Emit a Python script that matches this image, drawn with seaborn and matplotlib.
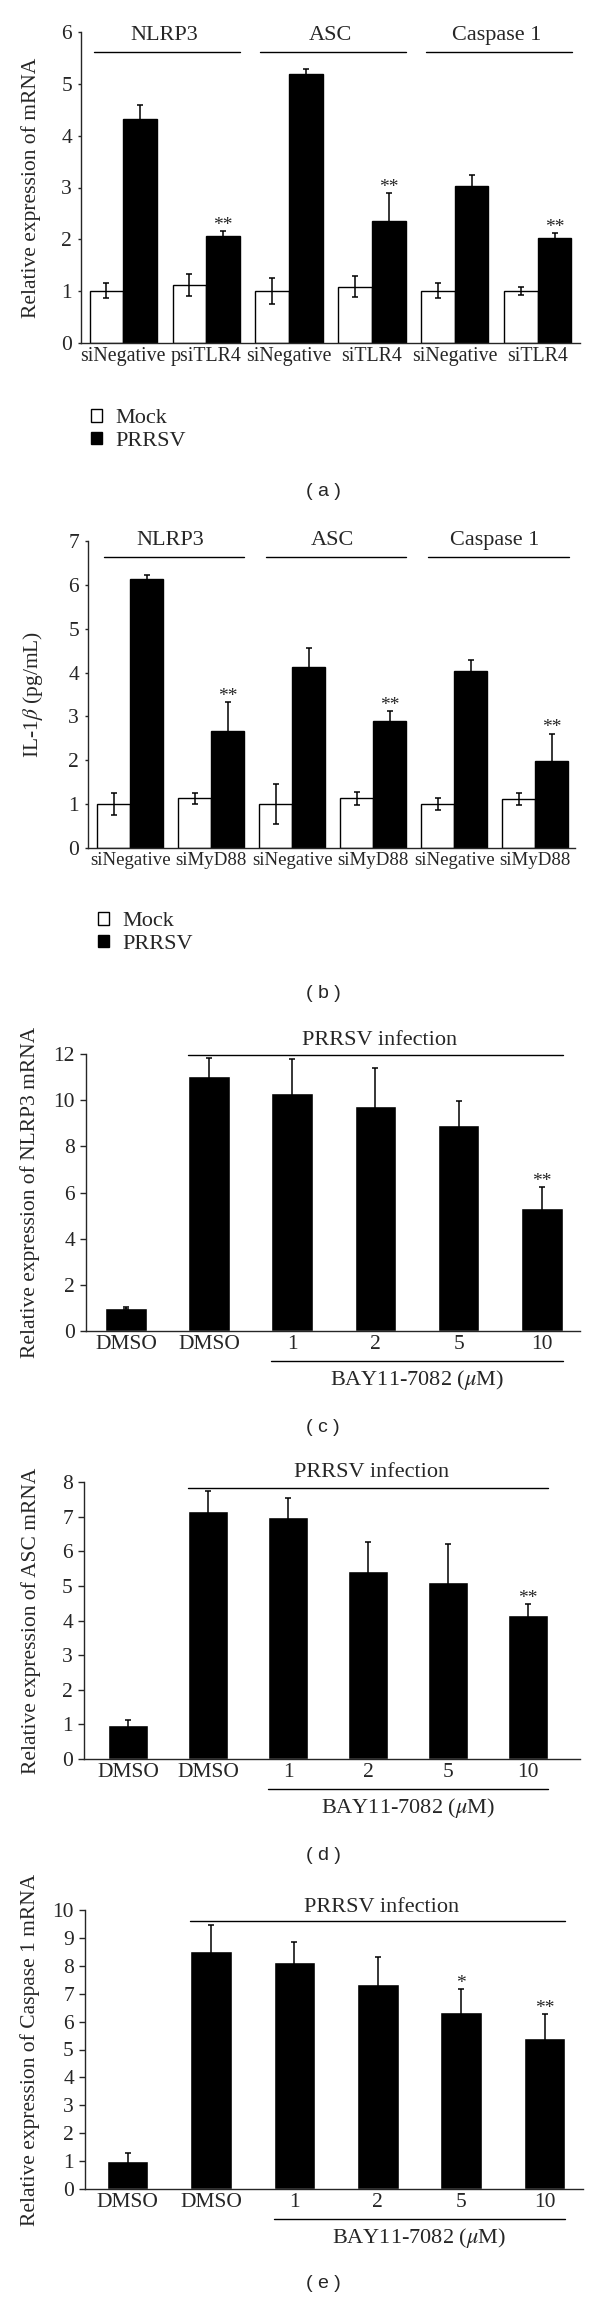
import matplotlib
matplotlib.use("Agg")
import pandas as pd
import matplotlib.pyplot as plt
import seaborn as sns
from matplotlib.patches import Patch

# Panels (a) and (b): Mock vs PRRSV after siRNA knockdown
groups = ["NLRP3", "ASC", "Caspase 1"]
ticks_a = ["siNegative", "psiTLR4", "siNegative", "siTLR4", "siNegative", "siTLR4"]
mock_a = [1.01, 1.12, 1.01, 1.09, 1.01, 1.01]
mock_a_err = [0.14, 0.21, 0.25, 0.20, 0.15, 0.08]
prrsv_a = [4.32, 2.06, 5.19, 2.35, 3.03, 2.02]
prrsv_a_err = [0.27, 0.10, 0.10, 0.54, 0.21, 0.11]
stars_a = ["", "**", "", "**", "", "**"]

ticks_b = ["siNegative", "siMyD88", "siNegative", "siMyD88", "siNegative", "siMyD88"]
mock_b = [1.01, 1.13, 1.01, 1.13, 1.01, 1.12]
mock_b_err = [0.25, 0.13, 0.46, 0.15, 0.14, 0.14]
prrsv_b = [6.13, 2.67, 4.13, 2.90, 4.03, 1.99]
prrsv_b_err = [0.10, 0.65, 0.42, 0.23, 0.25, 0.62]
stars_b = ["", "**", "", "**", "", "**"]

# Panels (c)-(e): BAY11-7082 dose series
ticks_dose = ["DMSO", "DMSO", "1", "2", "5", "10"]
nlrp3_c = [1.00, 11.03, 10.30, 9.75, 8.94, 5.34]
nlrp3_c_err = [0.04, 0.78, 1.47, 1.66, 1.01, 0.91]
stars_c = ["", "", "", "", "", "**"]

asc_d = [0.98, 7.17, 6.98, 5.42, 5.10, 4.17]
asc_d_err = [0.15, 0.56, 0.56, 0.85, 1.11, 0.30]
stars_d = ["", "", "", "", "", "**"]

casp_e = [1.02, 8.52, 8.15, 7.34, 6.33, 5.41]
casp_e_err = [0.28, 0.94, 0.70, 0.99, 0.84, 0.86]
stars_e = ["", "", "", "", "*", "**"]

sns.set_style("ticks")
plt.rcParams["font.family"] = ["Liberation Serif", "DejaVu Serif"]
plt.rcParams["mathtext.fontset"] = "stix"
plt.rcParams["axes.linewidth"] = 1.0

FS = 15.5
W, H = 600, 2300
fig = plt.figure(figsize=(W / 100, H / 100), dpi=100)


def rect(left, right, top, bottom):
    return [left / W, 1 - bottom / H, (right - left) / W, (bottom - top) / H]


def style_axis(ax, ylim, yticks, ylabel, xlim, label_x, left_px, width_px, ylen, xfs):
    sns.despine(ax=ax)
    ax.set_ylim(*ylim)
    ax.set_yticks(yticks)
    ax.set_xlim(*xlim)
    ax.set_xlabel("")
    ax.set_ylabel(ylabel, fontsize=FS)
    ax.yaxis.label.set_va("center")
    ax.yaxis.set_label_coords((label_x - left_px) / width_px, 0.5)
    ax.tick_params(axis="x", length=0, pad=3, labelsize=xfs)
    ax.tick_params(axis="y", length=ylen, width=1, pad=4, labelsize=FS, direction="out")


def add_err(ax, container, errs, stars):
    xs = [p.get_x() + p.get_width() / 2 for p in container]
    ys = [p.get_height() for p in container]
    ax.errorbar(xs, ys, yerr=errs, fmt="none", ecolor="black",
                elinewidth=1.1, capsize=2.5, capthick=1.1)
    for x, y, e, s in zip(xs, ys, errs, stars):
        if s:
            ax.annotate(s, (x, y + e), xytext=(0, 4), textcoords="offset points",
                        ha="center", va="center", fontsize=14)


def paired_panel(px, ticks, mock, mock_err, prrsv, prrsv_err, stars, ylim, ylabel,
                 xlim, line_y, text_y, span, label_x, legend_px, tag_y, tag, xfs):
    ax = fig.add_axes(rect(*px))
    keys = [f"{g} {t}" for g in groups for t in ("neg", "kd")]
    df = pd.DataFrame({
        "sample": keys * 2,
        "treatment": ["Mock"] * 6 + ["PRRSV"] * 6,
        "value": mock + prrsv,
    })
    sns.barplot(data=df, x="sample", y="value", hue="treatment", order=keys,
                hue_order=["Mock", "PRRSV"], palette={"Mock": "white", "PRRSV": "black"},
                edgecolor="black", linewidth=1.0, width=0.81, saturation=1,
                errorbar=None, legend=False, ax=ax)
    add_err(ax, ax.containers[0], mock_err, [""] * 6)
    add_err(ax, ax.containers[1], prrsv_err, stars)
    for g, name in enumerate(groups):
        ax.plot([2 * g + span[0], 2 * g + 1 + span[1]], [line_y, line_y],
                color="black", lw=1.0, clip_on=False)
        ax.text(2 * g + 0.5, text_y, name, ha="center", va="center", fontsize=16)
    ax.set_xticks(range(6))
    ax.set_xticklabels(ticks)
    style_axis(ax, ylim, range(ylim[1] + 1), ylabel, xlim, label_x,
               px[0], px[1] - px[0], 2.5, xfs)
    handles = [Patch(facecolor="white", edgecolor="black", lw=1.0),
               Patch(facecolor="black", edgecolor="black", lw=1.0)]
    fig.legend(handles, ["Mock", "PRRSV"], loc="center left",
               bbox_to_anchor=(legend_px[0] / W, 1 - legend_px[1] / H),
               frameon=False, fontsize=16, handlelength=0.5, handleheight=0.5,
               handletextpad=0.6, labelspacing=0.15, borderpad=0, borderaxespad=0)
    fig.text(323 / W, 1 - tag_y / H, tag, ha="center", va="center", fontsize=14,
             family=["Liberation Sans", "DejaVu Sans"])


def dose_panel(px, values, errs, stars, ylim, ystep, ylabel, xlim, line_y, text_y,
               label_x, tag_y, tag):
    ax = fig.add_axes(rect(*px))
    keys = ["DMSO mock", "DMSO", "1", "2", "5", "10"]
    sns.barplot(x=keys, y=values, order=keys, color="black", width=0.5,
                saturation=1, errorbar=None, ax=ax)
    add_err(ax, ax.containers[0], errs, stars)
    ax.plot([0.75, 5.25], [line_y, line_y], color="black", lw=1.0, clip_on=False)
    ax.text(3.05, text_y, "PRRSV infection", ha="center", va="center", fontsize=16)
    ax.set_xticks(range(6))
    ax.set_xticklabels(ticks_dose)
    style_axis(ax, ylim, range(0, ylim[1] + 1, ystep), ylabel, xlim, label_x,
               px[0], px[1] - px[0], 4, FS)
    hpx = px[3] - px[2]
    trans = ax.get_xaxis_transform()
    ax.plot([1.75, 5.25], [-30 / hpx, -30 / hpx], color="black", lw=1.0,
            transform=trans, clip_on=False)
    ax.text(3.5, -49 / hpx, r"BAY11-7082 ($\mu$M)", transform=trans,
            ha="center", va="center", fontsize=16)
    fig.text(323 / W, 1 - tag_y / H, tag, ha="center", va="center", fontsize=14,
             family=["Liberation Sans", "DejaVu Sans"])


paired_panel((81, 580, 32, 343), ticks_a, mock_a, mock_a_err, prrsv_a, prrsv_a_err,
             stars_a, (0, 6), "Relative expression of mRNA", (-0.51, 5.51),
             5.62, 5.94, (-0.35, 0.41), 31, (91, 430), 492, "( a )", 14.3)

paired_panel((88, 575, 541, 848), ticks_b, mock_b, mock_b_err, prrsv_b, prrsv_b_err,
             stars_b, (0, 7), r"IL-1$\beta$ (pg/mL)", (-0.52, 5.49),
             6.63, 7.02, (-0.32, 0.41), 33, (98, 933), 993, "( b )", 13.6)

dose_panel((86, 580, 1054, 1331), nlrp3_c, nlrp3_c_err, stars_c, (0, 12), 2,
           "Relative expression of NLRP3 mRNA", (-0.48, 5.46), 11.94, 12.6, 30, 1427, "( c )")

dose_panel((84, 580, 1482, 1759), asc_d, asc_d_err, stars_d, (0, 8), 1,
           "Relative expression of ASC mRNA", (-0.55, 5.65), 7.83, 8.26, 31, 1855, "( d )")

dose_panel((85, 583, 1910, 2189), casp_e, casp_e_err, stars_e, (0, 10), 1,
           "Relative expression of Caspase 1 mRNA", (-0.51, 5.46), 9.6, 10.1, 30, 2283, "( e )")

fig.savefig("out.png", dpi=100)
